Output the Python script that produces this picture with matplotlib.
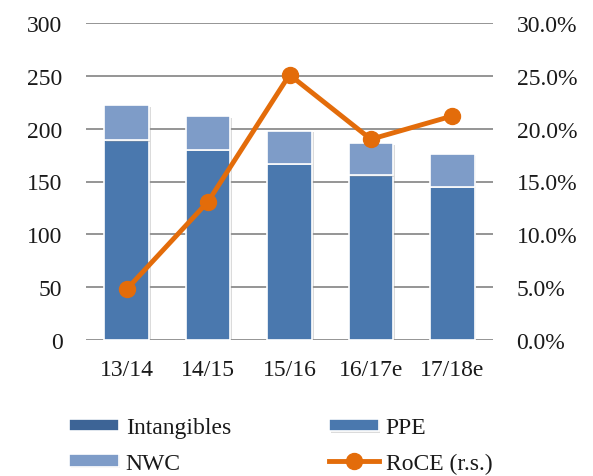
"""Capital employed breakdown with RoCE on the secondary axis."""

import matplotlib
matplotlib.use("Agg")
import matplotlib.pyplot as plt
import matplotlib.patheffects as pe
from matplotlib.ticker import FuncFormatter
import numpy as np

YEARS = ["13/14", "14/15", "15/16", "16/17e", "17/18e"]
INTANGIBLES = [0, 0, 0, 0, 0]
PPE = [189, 180, 167, 156, 145]
NWC = [33, 32, 31, 30, 31]
ROCE = [4.8, 13.1, 25.1, 19.0, 21.2]  # percent

C_INT = "#3D6496"
C_PPE = "#4A78AE"
C_NWC = "#7E9CC8"
C_ROCE = "#E36C0A"
GRID = "#8C8C8C"
TXT = "#1a1a1a"
FS = 17

plt.rcParams["font.family"] = ["Liberation Serif", "DejaVu Serif"]
plt.rcParams["font.size"] = FS

W, H = 593, 477
fig = plt.figure(figsize=(W / 100, H / 100), dpi=100)
ax = fig.add_axes([86 / W, 1 - 341 / H, (493 - 86) / W, (341 - 24) / H])
ax2 = ax.twinx()

shadow = [pe.SimplePatchShadow(offset=(1.2, -1.2), shadow_rgbFace="#999999", alpha=0.35),
          pe.Normal()]

x = np.arange(len(YEARS))
w = 0.55
b_int = ax.bar(x, INTANGIBLES, w, color=C_INT, edgecolor="white", linewidth=1.2, zorder=3)
b_ppe = ax.bar(x, PPE, w, bottom=INTANGIBLES, color=C_PPE, edgecolor="white",
               linewidth=1.2, zorder=3)
bottom_nwc = np.array(INTANGIBLES) + np.array(PPE)
b_nwc = ax.bar(x, NWC, w, bottom=bottom_nwc, color=C_NWC, edgecolor="white",
               linewidth=1.2, zorder=3)
for p in list(b_ppe) + list(b_nwc):
    p.set_path_effects(shadow)

ln, = ax2.plot(x, ROCE, color=C_ROCE, lw=3.5, marker="o", markersize=11.5, zorder=4)

ax.set_ylim(0, 300)
ax.set_yticks(range(0, 301, 50))
ax.set_xlim(-0.5, len(YEARS) - 0.5)
ax.set_xticks(x, YEARS)
ax2.set_ylim(0, 30)
ax2.set_yticks(np.arange(0, 31, 5))
ax2.yaxis.set_major_formatter(FuncFormatter(lambda v, _: f"{v:.1f}%"))

ax.yaxis.grid(True, color=GRID, lw=1.3, zorder=0)
ax.set_axisbelow(True)
for a in (ax, ax2):
    for s in a.spines.values():
        s.set_visible(False)
    a.tick_params(length=0, labelsize=FS, colors=TXT)
ax.tick_params(axis="y", pad=17)
ax.tick_params(axis="x", pad=14)
ax2.tick_params(axis="y", pad=17)
ax2.set_zorder(ax.get_zorder() + 1)
ax2.patch.set_visible(False)

# two legend columns placed separately so their left edges line up
leg_y = 1 - 446.5 / H
common = dict(loc="center left", frameon=False, fontsize=FS, handlelength=2.1,
              handleheight=0.45, labelspacing=0.6, handletextpad=0.3,
              borderpad=0, borderaxespad=0, labelcolor=TXT)
leg1 = fig.legend([b_int, b_nwc], ["Intangibles", "NWC"],
                  bbox_to_anchor=(69 / W, leg_y), **common)
leg2 = fig.legend([b_ppe, ln], ["PPE", "RoCE (r.s.)"],
                  bbox_to_anchor=(329 / W, leg_y), **common)

fig.savefig("out.png", dpi=100)
